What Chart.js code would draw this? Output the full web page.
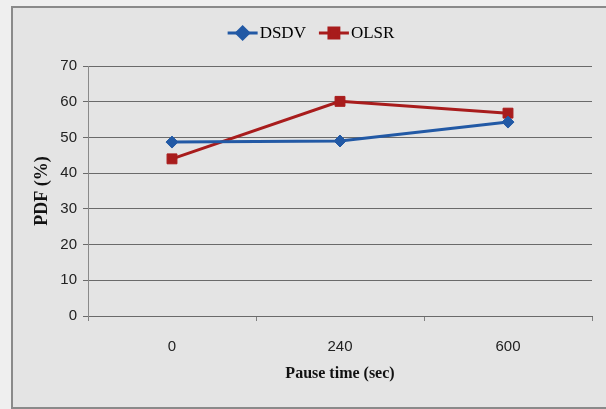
<!DOCTYPE html>
<html>
<head>
<meta charset="utf-8">
<script src="https://cdn.jsdelivr.net/npm/chart.js@4/dist/chart.umd.min.js"></script>
<style>
  html, body { margin: 0; padding: 0; background: #efefef; }
  #frame { position: absolute; left: 11px; top: 6px; width: 600px; height: 399px;
           border-left: 2px solid #8a8a8a; border-top: 2px solid #8a8a8a; border-bottom: 2px solid #8a8a8a;
           background: #e4e4e4; }
  #wrap { position: absolute; left: 0; top: 0; width: 606px; height: 409px; }
</style>
</head>
<body>
<div id="frame"></div>
<div id="wrap"><canvas id="c" width="606" height="409"></canvas></div>
<script>
const categories = ['0', '240', '600'];
const dsdvValues = [48.7, 49.0, 54.3];
const olsrValues = [44.0, 60.1, 56.8];
const seriesNames = ['DSDV', 'OLSR'];
const yTicks = { min: 0, max: 70, step: 10 };

const BLUE = '#2259a5';
const RED = '#a81c1c';

const legendPlugin = {
  id: 'customLegend',
  afterDraw(chart) {
    const ctx = chart.ctx;
    ctx.save();
    ctx.font = '17px "Liberation Serif", "Times New Roman", serif';
    ctx.textBaseline = 'middle';
    const items = chart.data.datasets.map(ds => ({
      label: ds.label, color: ds.borderColor, style: ds.pointStyle, r: ds.pointRadius,
      w: ctx.measureText(ds.label).width
    }));
    const markW = 30, gapT = 2, gapI = 13;
    let total = 0;
    items.forEach((it, i) => { total += markW + gapT + it.w + (i < items.length - 1 ? gapI : 0); });
    let x = 311 - total / 2;
    const y = 33;
    items.forEach(it => {
      ctx.strokeStyle = it.color; ctx.lineWidth = 3;
      ctx.beginPath(); ctx.moveTo(x, y); ctx.lineTo(x + markW, y); ctx.stroke();
      ctx.fillStyle = it.color;
      Chart.helpers.drawPoint(ctx, { pointStyle: it.style, radius: it.r, borderWidth: 1 }, x + markW / 2, y);
      ctx.fillStyle = '#000';
      ctx.textAlign = 'left';
      ctx.fillText(it.label, x + markW + gapT, y + 1);
      x += markW + gapT + it.w + gapI;
    });
    ctx.restore();
  }
};

new Chart(document.getElementById('c'), {
  type: 'line',
  data: {
    labels: categories,
    datasets: [
      { label: seriesNames[0], data: dsdvValues, borderColor: BLUE, backgroundColor: BLUE,
        borderWidth: 3, pointStyle: 'rectRot', pointRadius: 6, pointBorderWidth: 1, tension: 0 },
      { label: seriesNames[1], data: olsrValues, borderColor: RED, backgroundColor: RED,
        borderWidth: 3, pointStyle: 'rect', pointRadius: 7, pointBorderWidth: 1, tension: 0 }
    ]
  },
  options: {
    responsive: false,
    animation: false,
    devicePixelRatio: 1,
    layout: { padding: { left: 32, right: 14, top: 66, bottom: 26 } },
    plugins: { legend: { display: false }, tooltip: { enabled: false } },
    scales: {
      x: {
        offset: true,
        afterFit(s) { s.height = 67; },
        grid: { offset: true, drawOnChartArea: false, drawTicks: true, tickLength: 5, color: '#808080' },
        border: { color: '#6a6a6a', width: 1 },
        ticks: { padding: 17, color: '#222', font: { family: '"Liberation Sans", Arial, sans-serif', size: 15 } },
        title: { display: true, text: 'Pause time (sec)', color: '#111', padding: 0,
                 font: { family: '"Liberation Serif", "Times New Roman", serif', size: 16, weight: 'bold' } }
      },
      y: {
        min: yTicks.min, max: yTicks.max,
        afterFit(s) { s.width = 56; },
        ticks: { stepSize: yTicks.step, padding: 6, color: '#222',
                 font: { family: '"Liberation Sans", Arial, sans-serif', size: 15 } },
        grid: { color: '#6a6a6a', lineWidth: 1, drawTicks: true, tickLength: 5 },
        border: { color: '#8a8a8a', width: 1 },
        title: { display: true, text: 'PDF (%)', color: '#111', padding: 0,
                 font: { family: '"Liberation Serif", "Times New Roman", serif', size: 18, weight: 'bold' } }
      }
    }
  },
  plugins: [legendPlugin]
});
</script>
</body>
</html>
